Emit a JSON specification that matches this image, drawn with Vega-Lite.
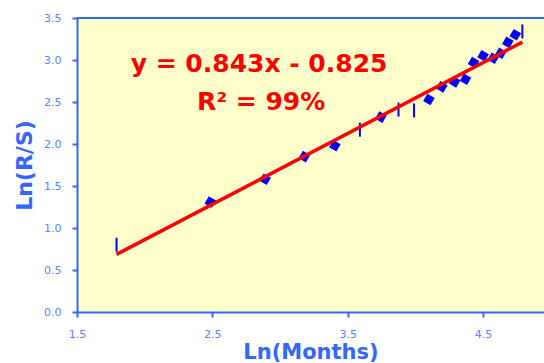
{
  "$schema": "https://vega.github.io/schema/vega-lite/v6.json",
  "width": 467,
  "height": 294,
  "autosize": {"type": "none"},
  "padding": {"left": 77, "top": 18, "right": 0, "bottom": 51},
  "background": "#ffffff",
  "config": {
    "font": "DejaVu Sans",
    "view": {"fill": "#ffffcc", "stroke": null},
    "axis": {
      "grid": false,
      "domainColor": "#3366ff",
      "domainWidth": 2,
      "tickColor": "#3366ff",
      "tickWidth": 2,
      "tickSize": 5,
      "labelColor": "#5b80ff",
      "labelFont": "DejaVu Sans",
      "labelFontSize": 11,
      "labelPadding": 11,
      "labelFlush": false,
      "labelOverlap": false,
      "titleColor": "#3366ff",
      "titleFont": "DejaVu Sans",
      "titleFontWeight": "bold"
    }
  },
  "datasets": {
    "diamondPoints": [
      {"lnMonths": 2.485, "lnRS": 1.31},
      {"lnMonths": 2.89, "lnRS": 1.58},
      {"lnMonths": 3.18, "lnRS": 1.85},
      {"lnMonths": 3.405, "lnRS": 1.98},
      {"lnMonths": 3.745, "lnRS": 2.32},
      {"lnMonths": 4.1, "lnRS": 2.53},
      {"lnMonths": 4.195, "lnRS": 2.68},
      {"lnMonths": 4.29, "lnRS": 2.74},
      {"lnMonths": 4.37, "lnRS": 2.77},
      {"lnMonths": 4.43, "lnRS": 2.97},
      {"lnMonths": 4.5, "lnRS": 3.05},
      {"lnMonths": 4.575, "lnRS": 3.02},
      {"lnMonths": 4.63, "lnRS": 3.08},
      {"lnMonths": 4.683, "lnRS": 3.21},
      {"lnMonths": 4.738, "lnRS": 3.3}
    ],
    "dashPoints": [
      {"lnMonths": 1.792, "lnRS": 0.8},
      {"lnMonths": 3.59, "lnRS": 2.17},
      {"lnMonths": 3.875, "lnRS": 2.41},
      {"lnMonths": 3.99, "lnRS": 2.4},
      {"lnMonths": 4.79, "lnRS": 3.34}
    ],
    "fit": [
      {"lnMonths": 1.792, "lnRS": 0.686},
      {"lnMonths": 4.79, "lnRS": 3.213}
    ],
    "notes": [
      {"lnMonths": 2.845, "lnRS": 2.857, "label": "y = 0.843x - 0.825"},
      {"lnMonths": 2.86, "lnRS": 2.405, "label": "R² = 99%"}
    ]
  },
  "layer": [
    {
      "data": {"name": "diamondPoints"},
      "mark": {"type": "point", "shape": "square", "angle": 30, "size": 72, "filled": true, "color": "#0000ff", "opacity": 1},
      "encoding": {
        "x": {
          "field": "lnMonths", "type": "quantitative", "title": "Ln(Months)",
          "scale": {"domain": [1.5, 4.95], "nice": false, "zero": false, "padding": 0},
          "axis": {"values": [1.5, 2.5, 3.5, 4.5], "format": ".1f", "titleFontSize": 21, "titlePadding": 2}
        },
        "y": {
          "field": "lnRS", "type": "quantitative", "title": "Ln(R/S)",
          "scale": {"domain": [0, 3.5], "nice": false, "zero": false, "padding": 0},
          "axis": {"values": [0, 0.5, 1, 1.5, 2, 2.5, 3, 3.5], "format": ".1f", "titleFontSize": 22, "titlePadding": 7}
        }
      }
    },
    {
      "data": {"name": "dashPoints"},
      "mark": {"type": "tick", "orient": "vertical", "size": 14, "thickness": 2, "color": "#0000ff", "opacity": 1},
      "encoding": {
        "x": {"field": "lnMonths", "type": "quantitative", "title": "Ln(Months)"},
        "y": {"field": "lnRS", "type": "quantitative", "title": "Ln(R/S)"}
      }
    },
    {
      "data": {"name": "fit"},
      "mark": {"type": "line", "color": "#ff0000", "strokeWidth": 3.5},
      "encoding": {
        "x": {"field": "lnMonths", "type": "quantitative", "title": "Ln(Months)"},
        "y": {"field": "lnRS", "type": "quantitative", "title": "Ln(R/S)"}
      }
    },
    {
      "data": {"values": [{}]},
      "mark": {"type": "rule", "color": "#3366ff", "strokeWidth": 2},
      "encoding": {
        "y": {"datum": 3.5, "type": "quantitative"}
      }
    },
    {
      "data": {"name": "notes"},
      "mark": {"type": "text", "color": "#ff0000", "font": "DejaVu Sans", "fontWeight": "bold", "fontSize": 25, "align": "center", "baseline": "alphabetic"},
      "encoding": {
        "x": {"field": "lnMonths", "type": "quantitative", "title": "Ln(Months)"},
        "y": {"field": "lnRS", "type": "quantitative", "title": "Ln(R/S)"},
        "text": {"field": "label", "type": "nominal"}
      }
    }
  ]
}
